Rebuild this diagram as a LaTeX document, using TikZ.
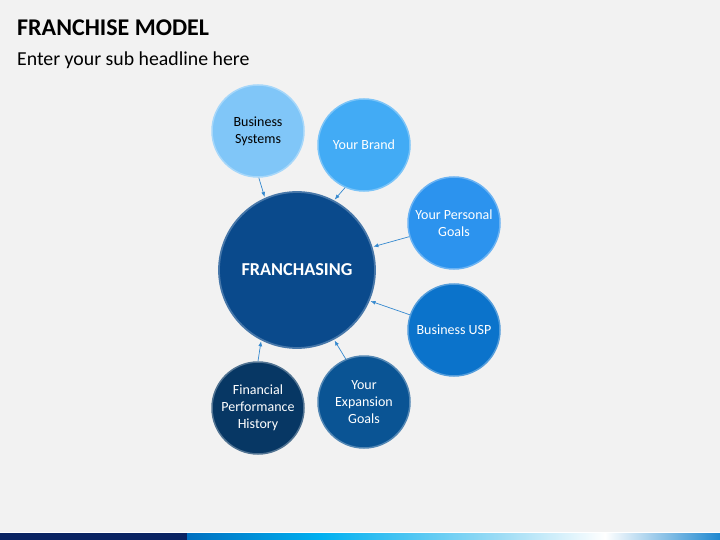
\documentclass[tikz,border=0pt]{standalone}
\usepackage{fontspec}
\setmainfont{Carlito}
\usetikzlibrary{arrows.meta}
\definecolor{bgc}{HTML}{F2F2F2}
\definecolor{cbs}{HTML}{80C6F8}
\definecolor{cbrand}{HTML}{42ABF5}
\definecolor{cpers}{HTML}{2C93EE}
\definecolor{cusp}{HTML}{0B73CB}
\definecolor{cexp}{HTML}{0A5494}
\definecolor{cfin}{HTML}{073764}
\definecolor{ccen}{HTML}{0A4A8C}
\definecolor{carrow}{HTML}{3589CF}
\definecolor{navy}{HTML}{0A2463}
\definecolor{b1}{HTML}{0070C0}
\definecolor{b2}{HTML}{00B0F0}
\definecolor{b3}{HTML}{9DDCF5}
\definecolor{b4}{HTML}{1E88D0}
\tikzset{
  bub/.style={circle, minimum size=92pt, inner sep=0pt, fill=#1, draw=#1!70!white, line width=1.5pt, text=white, align=center, font=\fontsize{14}{16.8}\selectfont},
  link/.style={draw=carrow, line width=0.7pt, -{Latex[length=5pt,width=4pt]}, shorten >=1pt},
  title/.style={anchor=base west, inner sep=0pt, font=\fontsize{24}{27}\selectfont\bfseries},
  subtitle/.style={anchor=base west, inner sep=0pt, font=\fontsize{19.8}{23}\selectfont}
}
\begin{document}
\begin{tikzpicture}[x=1pt,y=-1pt]
\fill[bgc] (0,0) rectangle (720,540);
\useasboundingbox (0,0) rectangle (720,540);
% bottom bar
\fill[white] (0,531.5) rectangle (720,533);
\fill[navy] (0,533) rectangle (187,540);
\shade[left color=b1, right color=b2] (187,533) rectangle (320,540);
\shade[left color=b2, right color=b3] (320,533) rectangle (500,540);
\shade[left color=b3, right color=white] (500,533) rectangle (605,540);
\shade[left color=white, right color=b4] (605,533) rectangle (720,540);
% titles
\node[title] (t) at (17,36) {FRANCHISE MODEL};
\node[subtitle] (st) at (17,66) {Enter your sub headline here};
% circles
\node[circle, minimum size=156pt, inner sep=0pt, fill=ccen, draw=ccen!75!white, line width=1.8pt, text=white, font=\fontsize{18.2}{21}\selectfont\bfseries] (fr) at (297,270) {FRANCHASING};
\node[bub=cbs, text=black] (bs) at (258,131) {Business\\Systems};
\node[bub=cbrand] (br) at (364,145) {Your Brand};
\node[bub=cpers] (pg) at (454,223) {Your Personal\\Goals};
\node[bub=cusp] (usp) at (454,330) {Business USP};
\node[bub=cexp] (eg) at (364,402) {Your\\Expansion\\Goals};
\node[bub=cfin] (fp) at (258,408) {Financial\\Performance\\History};
% arrows
\draw[link] (bs.-89) -- (fr.114.7);
\draw[link] (br.-114) -- (fr.62.4);
\draw[link] (pg.197) -- (fr.17.5);
\draw[link] (usp.161) -- (fr.-23.7);
\draw[link] (eg.113) -- (fr.-62.5);
\draw[link] (fp.90) -- (fr.-117);
\end{tikzpicture}
\end{document}
